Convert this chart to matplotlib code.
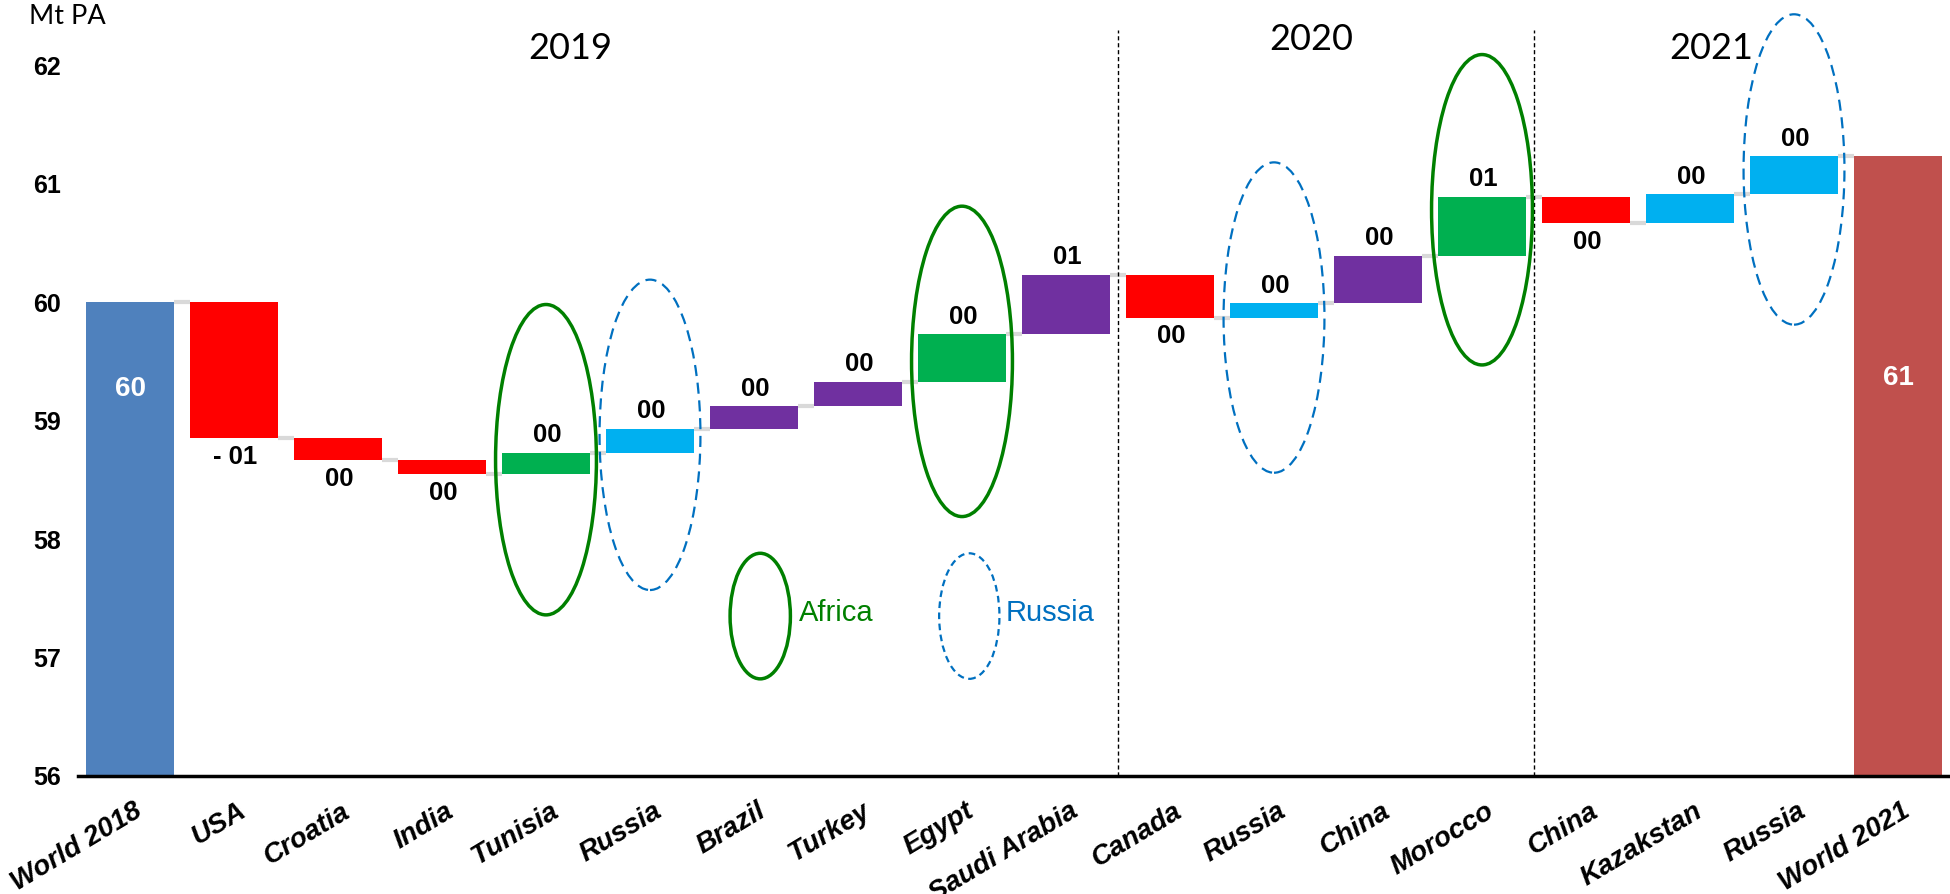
import matplotlib as mpl
mpl.use('Agg')
import matplotlib.pyplot as plt
from matplotlib.patches import Ellipse
from matplotlib.transforms import ScaledTranslation
import numpy as np

# categories and values (Mt PA)
paises = ["World 2018", "USA", "Croatia", "India", "Tunisia", "Russia", "Brazil",
          "Turkey", "Egypt", "Saudi Arabia", "Canada", "Russia", "China", "Morocco",
          "China", "Kazakstan", "Russia", "World 2021"]
inicio = 60.0
deltas = [-1.15, -0.18, -0.12, 0.18, 0.20, 0.19, 0.21, 0.40, 0.50,
          -0.36, 0.12, 0.40, 0.50, -0.22, 0.24, 0.32]
etiquetas = ["60", "- 01", "00", "00", "00", "00", "00", "00", "00", "01",
             "00", "00", "00", "01", "00", "00", "00", "61"]
colores = ['#4F81BD', '#FF0000', '#FF0000', '#FF0000', '#00B050', '#00B0F0', '#7030A0',
           '#7030A0', '#00B050', '#7030A0', '#FF0000', '#00B0F0', '#7030A0', '#00B050',
           '#FF0000', '#00B0F0', '#00B0F0', '#C0504D']

# year groups
anios = ["2019", "2020", "2021"]
anios_x = [4.23, 11.36, 15.2]
anios_y = [62.14, 62.22, 62.14]
separadores = [9.5, 13.5]

# highlight ellipses: index, centre y, type
elipses_idx = [4, 5, 8, 11, 13, 16]
elipses_y = [58.67, 58.88, 59.50, 59.87, 60.78, 61.12]
elipses_tipo = ["africa", "russia", "africa", "russia", "africa", "russia"]

##################################################
# waterfall
##################################################
n = len(paises)
acum = inicio + np.cumsum(deltas)
fin = np.concatenate(([inicio], acum, [acum[-1]]))
ini = np.concatenate(([56.0], [inicio], acum[:-1], [56.0]))
bottoms = np.minimum(ini, fin)
heights = np.abs(fin - ini)
x = np.arange(n)
ancho = 0.85

fig = plt.figure(figsize=(19.5, 8.94), dpi=100)
ax = fig.add_axes([0.04, 0.132, 0.96, 0.8613])

ax.bar(x, heights, bottom=bottoms, width=ancho, color=colores, zorder=2)

# connectors
for i in range(n - 1):
    ax.plot([i + ancho / 2, i + 1 - ancho / 2], [fin[i], fin[i]],
            color='#D9D9D9', lw=3, zorder=1, solid_capstyle='butt')

# labels
for i in range(n):
    if i == 0 or i == n - 1:
        yl = 59.27 if i == 0 else 59.36
        ax.text(x[i], yl, etiquetas[i], ha='center', va='center', color='white',
                fontsize=20, fontweight='bold', family='Liberation Sans', zorder=4)
    elif fin[i] >= ini[i]:
        ax.annotate(etiquetas[i], (x[i], fin[i]), xytext=(1, 4), textcoords='offset points',
                    ha='center', va='bottom', fontsize=18.5, fontweight='bold',
                    family='Liberation Sans', zorder=4)
    else:
        ax.annotate(etiquetas[i], (x[i], fin[i]), xytext=(1, -5), textcoords='offset points',
                    ha='center', va='top', fontsize=18.5, fontweight='bold',
                    family='Liberation Sans', zorder=4)

# ellipses
for idx, yc, tipo in zip(elipses_idx, elipses_y, elipses_tipo):
    if tipo == "africa":
        e = Ellipse((idx, yc), 0.97, 2.62, fill=False, ec='#008000', lw=2.5, zorder=3)
    else:
        e = Ellipse((idx, yc), 0.97, 2.62, fill=False, ec='#0070C0', lw=1.6,
                    ls=(0, (5, 3)), zorder=3)
    ax.add_patch(e)

# legend
ax.add_patch(Ellipse((6.06, 57.35), 0.58, 1.06, fill=False, ec='#008000', lw=2.5))
ax.text(6.43, 57.38, "Africa", color='#008000', fontsize=21, va='center', ha='left',
        family='Liberation Sans')
ax.add_patch(Ellipse((8.07, 57.35), 0.58, 1.06, fill=False, ec='#0070C0', lw=1.6,
                     ls=(0, (3, 2))))
ax.text(8.42, 57.38, "Russia", color='#0070C0', fontsize=21, va='center', ha='left',
        family='Liberation Sans')

# year separators and titles
for s in separadores:
    ax.plot([s, s], [56, 62.3], color='k', lw=1, ls=(0, (3, 2)), zorder=1)
for t, xa, ya in zip(anios, anios_x, anios_y):
    ax.text(xa, ya, t, ha='center', va='center', fontsize=26, family='Lato')

ax.set_xlim(-0.5, 17.5)
ax.set_ylim(56, 62.5)
for lado in ['top', 'right', 'left']:
    ax.spines[lado].set_visible(False)
ax.spines['bottom'].set_linewidth(2.5)
ax.spines['bottom'].set_zorder(5)

ax.set_yticks([56, 57, 58, 59, 60, 61, 62])
ax.tick_params(axis='y', length=0, pad=12)
ax.tick_params(axis='x', length=0, pad=24)
for lbl in ax.get_yticklabels():
    lbl.set_fontsize(18)
    lbl.set_fontweight('bold')
    lbl.set_family('Liberation Sans')
ax.set_xticks(x)
ax.set_xticklabels(paises, rotation=31, ha='right', va='center', rotation_mode='anchor',
                   fontsize=20, fontweight='bold', fontstyle='italic',
                   family='Liberation Sans')
desplaza = ScaledTranslation(0.1, 0, fig.dpi_scale_trans)
for lbl in ax.get_xticklabels():
    lbl.set_transform(lbl.get_transform() + desplaza)

fig.text(0.015, 0.981, "Mt PA", fontsize=19.5, family='Lato', va='center', ha='left')

plt.savefig('out.png', dpi=100)
